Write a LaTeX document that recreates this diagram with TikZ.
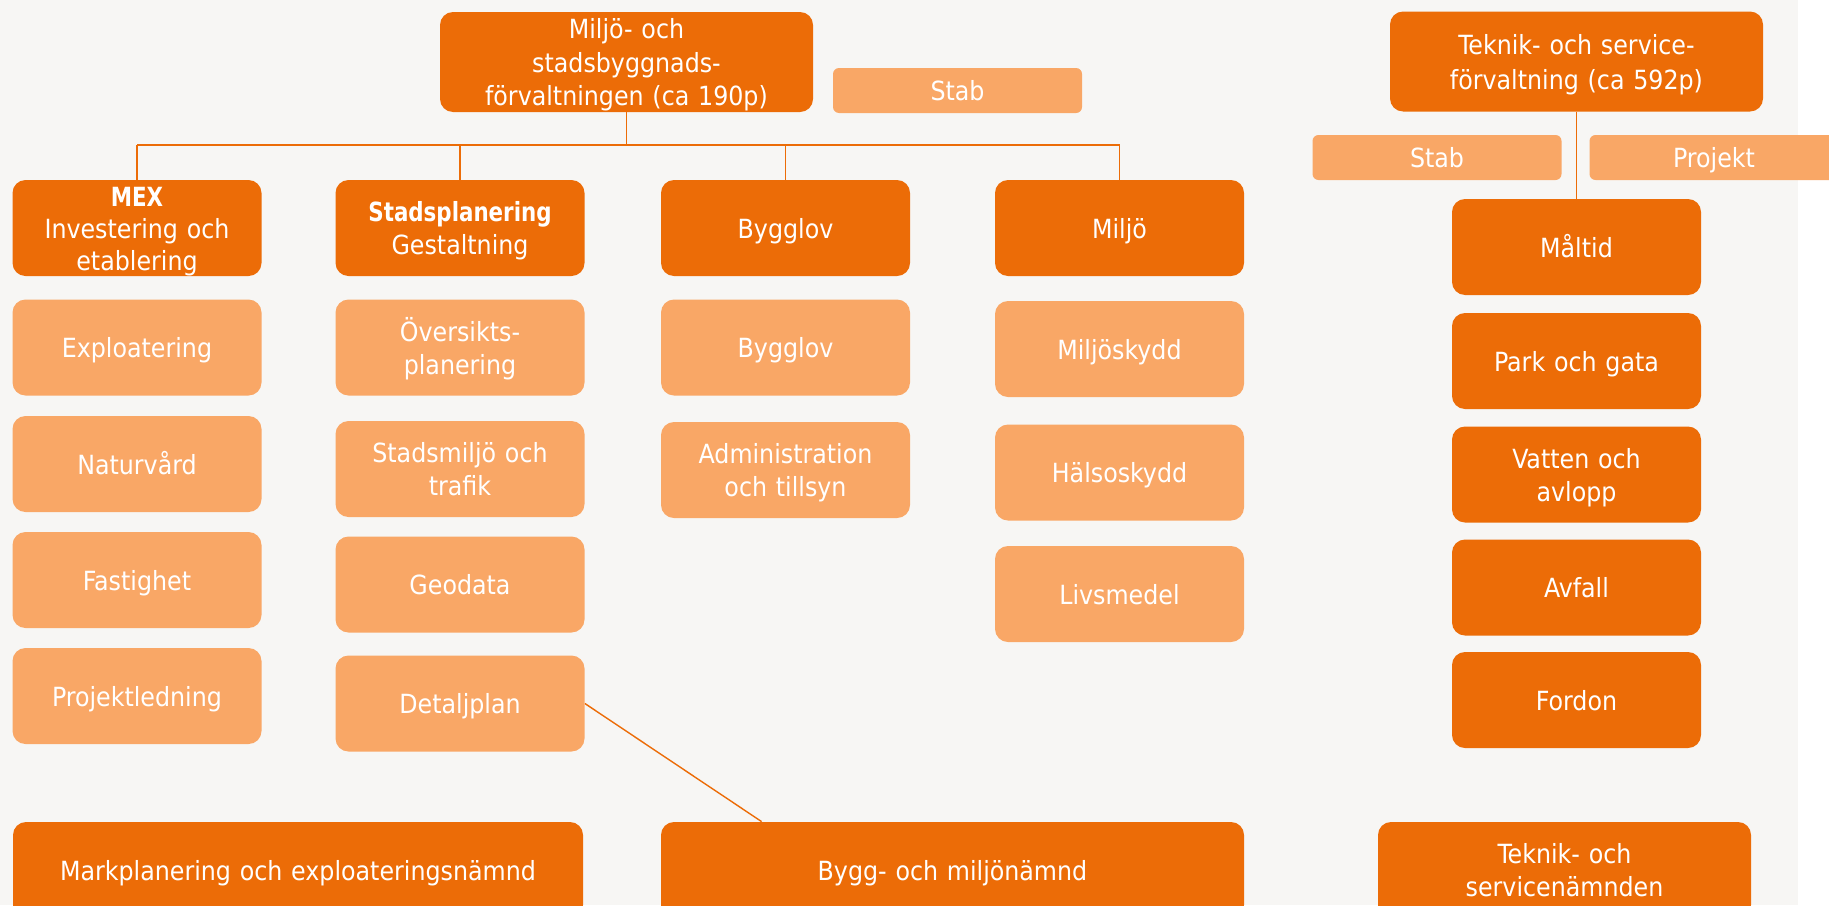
\documentclass[tikz,border=0pt]{standalone}
\usepackage{fontspec}
\IfFontExistsTF{DejaVu Sans Condensed}{\setmainfont{DejaVu Sans Condensed}}{\setmainfont{DejaVu Sans}[FakeStretch=0.9]}
\usetikzlibrary{calc}
\definecolor{darkorange}{HTML}{EC6C07}
\definecolor{lightorange}{HTML}{F9A766}
\definecolor{paper}{HTML}{F7F6F4}
\newcommand\headword[1]{\scalebox{0.9}[1]{\textbf{#1}}}
\tikzset{
	dark/.style={rounded corners=6.5pt, fill=darkorange, text=white, align=center, inner sep=0pt,
		font=\fontsize{13.2}{16.5}\selectfont, minimum width=124.5pt, minimum height=48pt, text width=122pt,
		execute at begin node={\rule{0pt}{13pt}}, execute at end node={\rule[-3pt]{0pt}{3pt}}},
	light/.style={dark, fill=lightorange},
	stabbox/.style={light, rounded corners=3pt, minimum height=22.5pt},
	wide/.style={minimum width=#1, text width=#1-6pt},
	link/.style={draw=darkorange, line width=0.7pt},
}

\begin{document}
\begin{tikzpicture}[x=0.5pt, y=-0.5pt]
		%%%%% START %%%%%
		
		\useasboundingbox (0, 0) rectangle (1829, 905);
		\clip (0, 0) rectangle (1829, 905);
		\fill[white] (0, 0) rectangle (1829, 905);
		\fill[paper] (0, 0) rectangle (1798, 905);
		
		% forvaltning
		\node[dark, wide=186.5pt, minimum height=50pt, font=\fontsize{13.2}{16.75}\selectfont] (msf) at (626.5, 62) {Miljö- och\\stadsbyggnads-\\förvaltningen (ca 190p)};
		\node[stabbox] (stab) at (957.5, 90.5) {Stab};
		
		\node[dark, font=\fontsize{13.2}{16}\selectfont] (mex) at (137, 228) {\headword{MEX}\\Investering och\\etablering};
		\node[dark] (stad) at (460, 228) {\headword{Stadsplanering}\\Gestaltning};
		\node[dark] (bygg) at (785.5, 228) {Bygglov};
		\node[dark] (miljo) at (1119.5, 228) {Miljö};
		
		\coordinate (bus) at (626.5, 145);
		\draw[link] (msf.south) -- (bus);
		\draw[link] (bus -| mex.north) -- (bus -| miljo.north);
		\foreach \n in {mex, stad, bygg, miljo}
			\draw[link] (bus -| \n.north) -- (\n.north);
		
		\node[light] (expl) at (137, 347.5) {Exploatering};
		\node[light] (natur) at (137, 464) {Naturvård};
		\node[light] (fast) at (137, 580) {Fastighet};
		\node[light] (projl) at (137, 696) {Projektledning};
		
		\node[light] (oversikt) at (460, 347.5) {Översikts-\\planering};
		\node[light] (stadsm) at (460, 469) {Stadsmiljö och\\trafik};
		\node[light] (geo) at (460, 584.5) {Geodata};
		\node[light] (detalj) at (460, 703.5) {Detaljplan};
		
		\node[light] (byggl) at (785.5, 347.5) {Bygglov};
		\node[light] (admin) at (785.5, 470) {Administration\\och tillsyn};
		
		\node[light] (mskydd) at (1119.5, 349) {Miljöskydd};
		\node[light] (hskydd) at (1119.5, 472.5) {Hälsoskydd};
		\node[light] (livs) at (1119.5, 594) {Livsmedel};
		
		% teknik
		\node[dark, wide=186.5pt, minimum height=50pt, font=\fontsize{13.2}{17.5}\selectfont] (tsf) at (1576.5, 61.5) {Teknik- och service-\\förvaltning (ca 592p)};
		\node[stabbox] (tstab) at (1437, 157.5) {Stab};
		\node[stabbox] (proj) at (1714, 157.5) {Projekt};
		
		\node[dark] (maltid) at (1576.5, 247) {Måltid};
		\node[dark] (park) at (1576.5, 361) {Park och gata};
		\node[dark] (vatten) at (1576.5, 474.5) {Vatten och\\avlopp};
		\node[dark] (avfall) at (1576.5, 587.5) {Avfall};
		\node[dark] (fordon) at (1576.5, 700) {Fordon};
		\draw[link] (tsf.south) -- (maltid.north);
		
		% namnder
		\node[dark, wide=285pt] (mark) at (298, 870) {Markplanering och exploateringsnämnd};
		\node[dark, wide=291.5pt] (bmn) at (952.5, 870) {Bygg- och miljönämnd};
		\node[dark, wide=186.5pt] (tsn) at (1564.5, 870) {Teknik- och\\servicenämnden};
		
		\coordinate (bmntop) at ($(bmn.north west)+(101, 0)$);
		\draw[link] (detalj.east) -- (bmntop);
		
		%%%%% END %%%%%
\end{tikzpicture}
\end{document}
